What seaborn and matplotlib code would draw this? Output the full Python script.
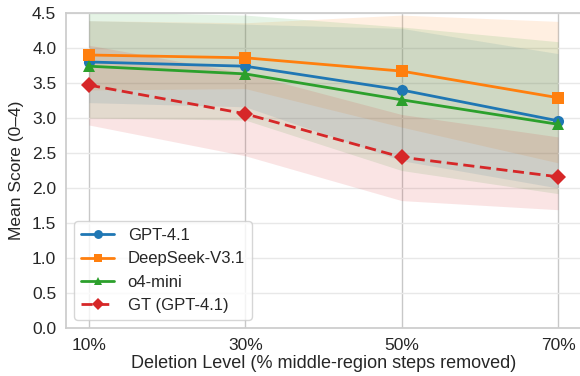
import numpy as np
import pandas as pd
import matplotlib
matplotlib.use("Agg")
import matplotlib.pyplot as plt
import seaborn as sns

levels = [10, 30, 50, 70]
tick_labels = ["10%", "30%", "50%", "70%"]
series = ["GPT-4.1", "DeepSeek-V3.1", "o4-mini", "GT (GPT-4.1)"]

gpt41_mean = [3.80, 3.74, 3.40, 2.96]
deepseek_mean = [3.90, 3.86, 3.67, 3.29]
o4mini_mean = [3.74, 3.63, 3.26, 2.91]
gt_mean = [3.47, 3.06, 2.44, 2.16]

gpt41_low = [3.22, 3.16, 2.39, 2.00]
gpt41_high = [4.39, 4.34, 4.28, 3.92]
deepseek_low = [3.40, 3.42, 2.87, 2.36]
deepseek_high = [4.39, 4.36, 4.47, 4.38]
o4mini_low = [3.00, 2.97, 2.25, 1.92]
o4mini_high = [4.52, 4.47, 4.30, 4.09]
gt_low = [2.90, 2.46, 1.82, 1.69]
gt_high = [4.04, 3.64, 3.05, 2.73]

means = [gpt41_mean, deepseek_mean, o4mini_mean, gt_mean]
lows = [gpt41_low, deepseek_low, o4mini_low, gt_low]
highs = [gpt41_high, deepseek_high, o4mini_high, gt_high]
colors = ["#1f77b4", "#ff7f0e", "#2ca02c", "#d62728"]
markers = ["o", "s", "^", "D"]
dashes = ["", "", "", (4, 2)]

sns.set_theme(style="whitegrid")
plt.rcParams["font.family"] = ["Liberation Sans", "DejaVu Sans"]
plt.rcParams["font.size"] = 12

df = pd.DataFrame({
    "level": levels * 4,
    "score": sum(means, []),
    "model": sum([[s] * 4 for s in series], []),
})

fig = plt.figure(figsize=(5.8, 3.76), dpi=100)
ax = fig.add_axes([66 / 580, 1 - 328 / 376, 515 / 580, (328 - 13) / 376])

for lo, hi, c in zip(lows, highs, colors):
    ax.fill_between(levels, lo, hi, color=c, alpha=0.12, linewidth=0, zorder=1)

sns.lineplot(data=df, x="level", y="score", hue="model", style="model",
             hue_order=series, style_order=series,
             palette=dict(zip(series, colors)),
             markers=dict(zip(series, markers)),
             dashes=dict(zip(series, dashes)),
             markersize=8, linewidth=2, markeredgewidth=0,
             ax=ax, zorder=3)

ax.set_xlim(10 - 0.147 * 20, 70 + 0.147 * 20)
ax.set_ylim(0, 4.5)
ax.set_xticks(levels)
ax.set_xticklabels(tick_labels)
ax.set_yticks(np.arange(0, 4.51, 0.5))
ax.set_yticklabels([f"{v:.1f}" for v in np.arange(0, 4.51, 0.5)])
ax.tick_params(axis="both", labelsize=12.5, pad=7, length=0)
ax.grid(False)
ax.grid(axis="y", color="#e8e8e8", linewidth=1)
ax.grid(axis="x", color="#c8c8c8", linewidth=1)
ax.set_axisbelow(True)
for sp in ax.spines.values():
    sp.set_color("#cccccc")

ax.set_xlabel("Deletion Level (% middle-region steps removed)", fontsize=13, labelpad=2)
ax.set_ylabel("Mean Score (0–4)", fontsize=12.5, labelpad=6)

handles, labels = ax.get_legend_handles_labels()
ax.legend(handles=handles, labels=labels, loc="lower left", fontsize=12,
          frameon=True, facecolor="white", edgecolor="#cccccc", framealpha=0.8,
          borderaxespad=0.5, markerscale=0.8)

fig.savefig("out.png", dpi=100)
